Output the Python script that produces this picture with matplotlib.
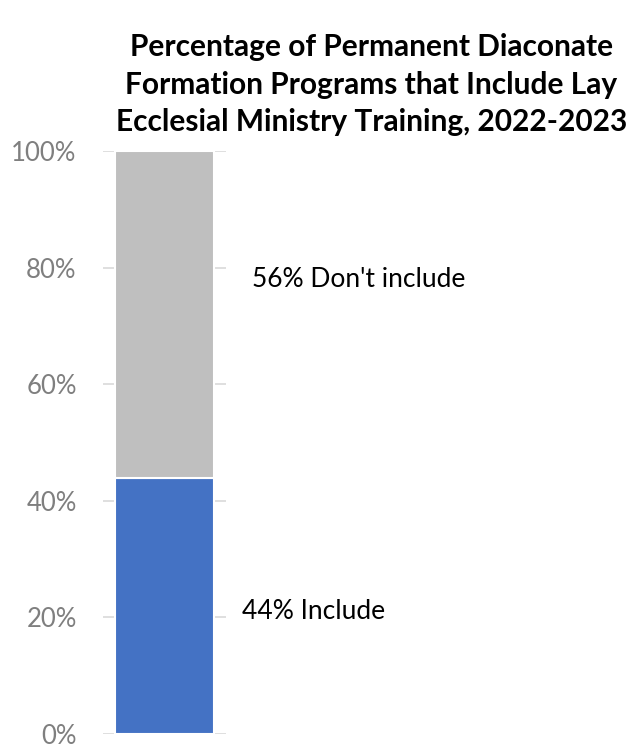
import matplotlib

matplotlib.use("Agg")
import matplotlib.pyplot as plt
from matplotlib.ticker import FuncFormatter

plt.rcParams["font.family"] = ["Lato", "DejaVu Sans"]

segmentos = ["Include", "Don't include"]
valores = [44, 56]
cores = ["#4472c4", "#bfbfbf"]
rotulo_y = [21, 78]
ticks = [0, 20, 40, 60, 80, 100]

fig = plt.figure(figsize=(6.36, 7.49), dpi=100)
ax = fig.add_axes([0.162, 0.020, 0.193, 0.778])

base = 0
for nome, v, c in zip(segmentos, valores, cores):
    ax.bar(0, v, bottom=base, width=0.81, color=c, edgecolor="white", linewidth=1.5, zorder=3)
    base += v

for nome, v, y in zip(segmentos, valores, rotulo_y):
    ax.text(1.13 if nome == "Include" else 1.21, y, f"{v}% {nome}",
            transform=ax.get_yaxis_transform(), fontsize=19, color="black",
            va="center", ha="left", clip_on=False)

ax.set_xlim(-0.5, 0.5)
ax.set_ylim(0, 100)
ax.set_yticks(ticks)
ax.yaxis.set_major_formatter(FuncFormatter(lambda v, p: f"{v:.0f}%"))
ax.tick_params(axis="y", length=0, pad=19, labelsize=18.5, labelcolor="#7f7f7f")
ax.set_xticks([])
ax.grid(axis="y", color="#d9d9d9", linewidth=1.2, zorder=0)
for s in ax.spines.values():
    s.set_visible(False)

fig.text(0.584, 0.887,
         "Percentage of Permanent Diaconate\nFormation Programs that Include Lay\nEcclesial Ministry Training, 2022-2023",
         ha="center", va="center", fontsize=21.5, fontweight="bold", linespacing=1.42)

fig.savefig("out.png", dpi=100)
